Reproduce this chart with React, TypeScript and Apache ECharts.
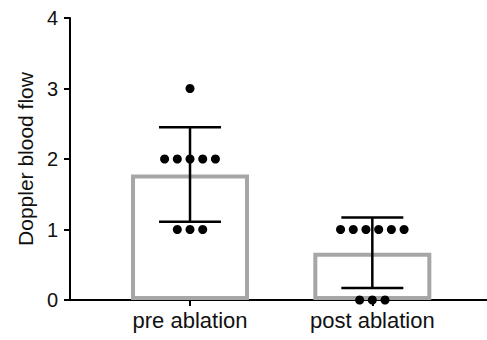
import React, { useEffect, useRef } from "react";
import * as echarts from "echarts";

const categories = ["pre ablation", "post ablation"];
const preValues = [3, 2, 2, 2, 2, 2, 1, 1, 1];
const postValues = [1, 1, 1, 1, 1, 1, 0, 0, 0];
const means = [1.78, 0.67];
const sds = [0.67, 0.5];
const yTicks = [0, 1, 2, 3, 4];

const DOT_SPACING = 0.0697; // x-units between neighbouring dots

function swarm(values: number[], xPos: number): number[][] {
  const groups: Record<string, number[]> = {};
  values.forEach((v) => {
    (groups[v] = groups[v] || []).push(v);
  });
  const out: number[][] = [];
  Object.keys(groups).forEach((k) => {
    const g = groups[k];
    const n = g.length;
    g.forEach((v, i) => out.push([xPos + (i - (n - 1) / 2) * DOT_SPACING, v]));
  });
  return out;
}

export default function App() {
  const ref = useRef<HTMLDivElement>(null);
  useEffect(() => {
    if (!ref.current) return;
    const chart = echarts.init(ref.current, undefined, { renderer: "svg" });
    const font = "'Liberation Sans', Arial, Helvetica, sans-serif";
    const points = [...swarm(preValues, 1), ...swarm(postValues, 2)];
    chart.setOption({
      animation: false,
      grid: { left: 70, right: 0, top: 18, bottom: 40, containLabel: false },
      xAxis: {
        type: "value",
        min: 0.3417,
        max: 2.629,
        splitLine: { show: false },
        axisLine: { show: true, onZero: false, lineStyle: { color: "#000", width: 2 } },
        axisTick: { show: true, customValues: [1, 2], length: 6, lineStyle: { color: "#000", width: 2 } },
        axisLabel: {
          customValues: [1, 2],
          formatter: (v: number) => categories[Math.round(v) - 1] || "",
          color: "#111",
          fontSize: 22,
          fontFamily: font,
          margin: 9,
        },
      },
      yAxis: {
        type: "value",
        min: yTicks[0],
        max: yTicks[yTicks.length - 1],
        interval: 1,
        name: "Doppler blood flow",
        nameLocation: "middle",
        nameGap: 32,
        nameTextStyle: { color: "#111", fontSize: 21, fontFamily: font },
        splitLine: { show: false },
        axisLine: { show: true, onZero: false, lineStyle: { color: "#000", width: 2 } },
        axisTick: { show: true, length: 6, lineStyle: { color: "#000", width: 2 } },
        axisLabel: { color: "#111", fontSize: 20, fontFamily: font, margin: 12 },
      },
      series: [
        {
          type: "bar",
          data: means.map((m, i) => [i + 1, m]),
          barWidth: 118,
          itemStyle: { color: "rgba(255,255,255,0)", borderColor: "#a6a6a6", borderWidth: 4 },
          z: 1,
        },
        {
          type: "scatter",
          data: points,
          symbol: "circle",
          symbolSize: 9,
          itemStyle: { color: "#000", opacity: 1 },
          z: 3,
        },
        {
          type: "custom",
          data: means.map((m, i) => [i + 1, m - sds[i], m + sds[i]]),
          z: 4,
          renderItem: (params: any, api: any) => {
            const x = api.value(0);
            const lo = api.coord([x, api.value(1)]);
            const hi = api.coord([x, api.value(2)]);
            const half = 31;
            const style = { stroke: "#000", lineWidth: 2.5 };
            return {
              type: "group",
              children: [
                { type: "line", shape: { x1: lo[0], y1: lo[1], x2: hi[0], y2: hi[1] }, style },
                { type: "line", shape: { x1: hi[0] - half, y1: hi[1], x2: hi[0] + half, y2: hi[1] }, style },
                { type: "line", shape: { x1: lo[0] - half, y1: lo[1], x2: lo[0] + half, y2: lo[1] }, style },
              ],
            };
          },
        },
      ],
    });
    return () => chart.dispose();
  }, []);
  return <div ref={ref} style={{ width: 487, height: 340, position: "absolute", left: 0, top: 0 }} />;
}
